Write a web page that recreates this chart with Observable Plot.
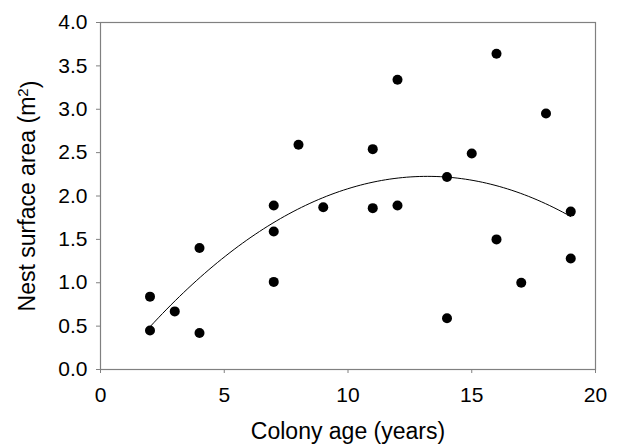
<!DOCTYPE html>
<html>
<head>
<meta charset="utf-8">
<script src="https://cdn.jsdelivr.net/npm/d3@7"></script>
<script src="https://cdn.jsdelivr.net/npm/@observablehq/plot@0.6"></script>
<style>
  html, body { margin: 0; padding: 0; background: #fff; }
</style>
</head>
<body>
<div id="chart"></div>
<script>
const colonyAge = [2, 2, 3, 4, 4, 7, 7, 7, 8, 9, 11, 11, 12, 12, 14, 14, 15, 16, 16, 17, 18, 19, 19];
const nestArea  = [0.84, 0.45, 0.67, 1.40, 0.42, 1.89, 1.59, 1.01, 2.59, 1.87, 2.54, 1.86, 3.34, 1.89, 2.22, 0.59, 2.49, 3.64, 1.50, 1.00, 2.95, 1.82, 1.28];
const xTicks = [0, 5, 10, 15, 20];
const yTicks = [0, 0.5, 1, 1.5, 2, 2.5, 3, 3.5, 4];

const points = colonyAge.map((x, i) => ({x, y: nestArea[i]}));

// quadratic least-squares fit of the data (the trend curve of the figure)
function quadFit(xs, ys) {
  const n = xs.length;
  let s = [0,0,0,0,0], t = [0,0,0];
  for (let i = 0; i < n; i++) {
    const x = xs[i], y = ys[i];
    for (let k = 0; k < 5; k++) s[k] += Math.pow(x, k);
    for (let k = 0; k < 3; k++) t[k] += y * Math.pow(x, k);
  }
  const A = [[s[0], s[1], s[2], t[0]], [s[1], s[2], s[3], t[1]], [s[2], s[3], s[4], t[2]]];
  for (let c = 0; c < 3; c++) {
    for (let r = c + 1; r < 3; r++) {
      const f = A[r][c] / A[c][c];
      for (let k = c; k < 4; k++) A[r][k] -= f * A[c][k];
    }
  }
  const b = [0,0,0];
  for (let r = 2; r >= 0; r--) {
    let v = A[r][3];
    for (let k = r + 1; k < 3; k++) v -= A[r][k] * b[k];
    b[r] = v / A[r][r];
  }
  return b;
}
const coef = quadFit(colonyAge, nestArea);
const xMin = d3.min(colonyAge), xMax = d3.max(colonyAge);
const fitLine = d3.range(0, 101).map(i => {
  const x = xMin + (xMax - xMin) * i / 100;
  return {x, y: coef[0] + coef[1] * x + coef[2] * x * x};
});

const chart = Plot.plot({
  width: 617,
  height: 447,
  marginLeft: 100,
  marginRight: 22,
  marginTop: 22,
  marginBottom: 78,
  style: {fontFamily: "'Liberation Sans', Arial, sans-serif", background: "#fff", color: "#000"},
  x: {domain: [0, 20]},
  y: {domain: [0, 4]},
  marks: [
    Plot.frame({stroke: "#808080", strokeWidth: 1.2}),
    Plot.axisX({ticks: xTicks, tickSize: 4, tickPadding: 14, fontSize: 21, stroke: "#808080", fill: "#000",
      label: "Colony age (years)", labelAnchor: "center", labelArrow: "none", labelOffset: 69}),
    Plot.axisY({ticks: yTicks, tickFormat: d3.format(".1f"), tickSize: 4, tickPadding: 9, fontSize: 21, stroke: "#808080", fill: "#000",
      label: "Nest surface area (m2)", labelAnchor: "center", labelArrow: "none", labelOffset: 82}),
    Plot.line(fitLine, {x: "x", y: "y", stroke: "#000", strokeWidth: 1}),
    Plot.dot(points, {x: "x", y: "y", r: 5, fill: "#000", stroke: "none"})
  ]
});
chart.querySelectorAll("g[aria-label='x-axis label'] text, g[aria-label='y-axis label'] text").forEach(t => t.style.fontSize = "23px");
const yl = chart.querySelector("g[aria-label='y-axis label'] text");
if (yl) {
  const ns = "http://www.w3.org/2000/svg";
  while (yl.firstChild) yl.removeChild(yl.firstChild);
  const t1 = document.createElementNS(ns, "tspan"); t1.textContent = "Nest surface area (m";
  const t2 = document.createElementNS(ns, "tspan"); t2.textContent = "2";
  t2.setAttribute("dy", "-0.45em"); t2.setAttribute("font-size", "15px");
  const t3 = document.createElementNS(ns, "tspan"); t3.textContent = ")";
  t3.setAttribute("dy", "0.45em");
  yl.append(t1, t2, t3);
}
document.getElementById("chart").appendChild(chart);
</script>
</body>
</html>
